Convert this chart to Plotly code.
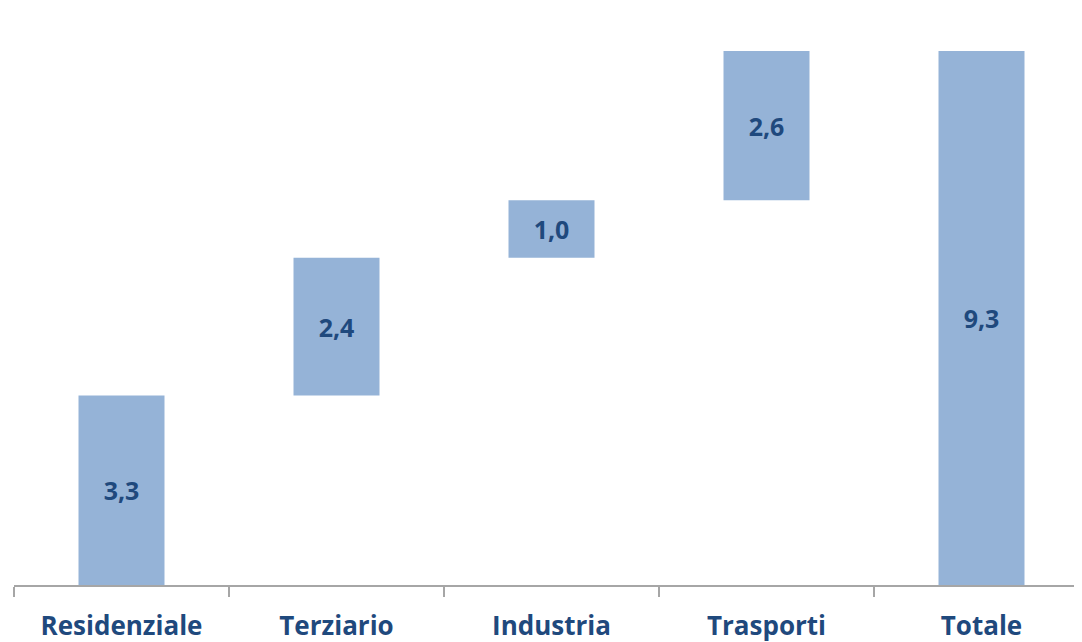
import plotly.graph_objects as go

categories = ["Residenziale", "Terziario", "Industria", "Trasporti", "Totale"]
values = [3.3, 2.4, 1.0, 2.6, 9.3]
measures = ["relative", "relative", "relative", "relative", "total"]
labels = [f"{v:.1f}".replace(".", ",") for v in values]

bar_color = "#95B3D7"
text_color = "#1F497D"
axis_color = "#A6A6A6"
font_family = "'Open Sans', Lato, sans-serif"

fig = go.Figure(go.Waterfall(
    x=categories,
    y=values,
    measure=measures,
    text=labels,
    textposition="inside",
    insidetextanchor="middle",
    textfont=dict(family=font_family, size=25, color=text_color, weight="bold"),
    width=0.4,
    increasing=dict(marker=dict(color=bar_color, line=dict(width=0))),
    decreasing=dict(marker=dict(color=bar_color, line=dict(width=0))),
    totals=dict(marker=dict(color=bar_color, line=dict(width=0))),
    connector=dict(visible=False),
    hoverinfo="skip",
))

fig.update_layout(
    width=1074, height=634,
    margin=dict(l=6, r=0, t=0, b=57),
    plot_bgcolor="white", paper_bgcolor="white",
    showlegend=False,
    separators=",.",
    uniformtext=dict(minsize=10, mode="show"),
)
fig.update_xaxes(
    type="category",
    range=[-0.5, 4.5 - 7 / 215],
    showline=True, linecolor=axis_color, linewidth=2,
    ticks="outside", tickson="boundaries", ticklen=10, tickwidth=2, tickcolor=axis_color,
    tickfont=dict(family=font_family, size=26, color=text_color, weight="bold"),
    ticklabelstandoff=17,
    showgrid=False,
)
fig.update_yaxes(range=[0, 577 / 57.42], visible=False, showgrid=False, zeroline=False)

fig.write_html("out.html")
